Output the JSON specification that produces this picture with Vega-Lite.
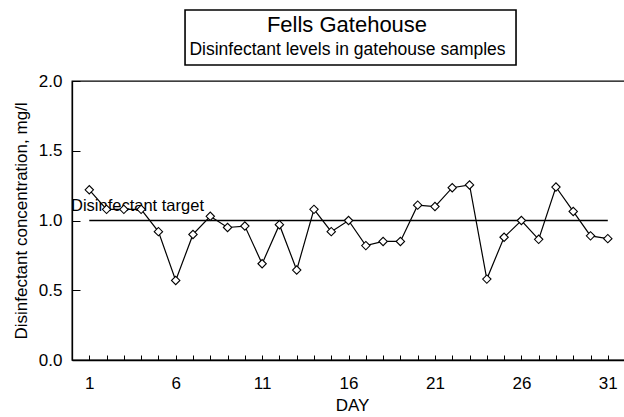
{
  "$schema": "https://vega.github.io/schema/vega-lite/v6.json",
  "width": 560,
  "height": 279,
  "autosize": {"type": "none"},
  "padding": {"left": 72, "top": 81, "right": 0, "bottom": 57},
  "background": "white",
  "config": {
    "font": "Liberation Sans",
    "view": {"stroke": "black", "strokeWidth": 1.3},
    "axis": {"domainColor": "black", "tickColor": "black", "labelColor": "black", "titleColor": "black", "grid": false, "labelFont": "Liberation Sans", "titleFont": "Liberation Sans", "titleFontWeight": "normal", "domainWidth": 1.3}
  },
  "data": {
    "values": [
      {"day": 1, "conc": 1.22},
      {"day": 2, "conc": 1.08},
      {"day": 3, "conc": 1.08},
      {"day": 4, "conc": 1.08},
      {"day": 5, "conc": 0.92},
      {"day": 6, "conc": 0.57},
      {"day": 7, "conc": 0.9},
      {"day": 8, "conc": 1.03},
      {"day": 9, "conc": 0.95},
      {"day": 10, "conc": 0.96},
      {"day": 11, "conc": 0.69},
      {"day": 12, "conc": 0.97},
      {"day": 13, "conc": 0.645},
      {"day": 14, "conc": 1.08},
      {"day": 15, "conc": 0.92},
      {"day": 16, "conc": 1.0},
      {"day": 17, "conc": 0.82},
      {"day": 18, "conc": 0.85},
      {"day": 19, "conc": 0.85},
      {"day": 20, "conc": 1.11},
      {"day": 21, "conc": 1.1},
      {"day": 22, "conc": 1.235},
      {"day": 23, "conc": 1.255},
      {"day": 24, "conc": 0.58},
      {"day": 25, "conc": 0.88},
      {"day": 26, "conc": 1.0},
      {"day": 27, "conc": 0.865},
      {"day": 28, "conc": 1.24},
      {"day": 29, "conc": 1.065},
      {"day": 30, "conc": 0.89},
      {"day": 31, "conc": 0.87}
    ]
  },
  "layer": [
    {
      "data": {"values": [{"label": "title box"}]},
      "mark": {"type": "rect", "fill": "white", "stroke": "black", "strokeWidth": 1.6},
      "encoding": {
        "x": {"datum": 6.54, "type": "quantitative"},
        "x2": {"datum": 25.69},
        "y": {"datum": 2.115, "type": "quantitative"},
        "y2": {"datum": 2.509}
      }
    },
    {
      "data": {"values": [{"label": "Fells Gatehouse"}]},
      "mark": {"type": "text", "align": "center", "baseline": "alphabetic", "fontSize": 22, "color": "black"},
      "encoding": {
        "text": {"field": "label"},
        "x": {"datum": 15.91, "type": "quantitative"},
        "y": {"datum": 2.353, "type": "quantitative"}
      }
    },
    {
      "data": {"values": [{"label": "Disinfectant levels in gatehouse samples"}]},
      "mark": {"type": "text", "align": "center", "baseline": "alphabetic", "fontSize": 17.5, "color": "black"},
      "encoding": {
        "text": {"field": "label"},
        "x": {"datum": 15.94, "type": "quantitative"},
        "y": {"datum": 2.186, "type": "quantitative"}
      }
    },
    {
      "data": {"values": [{"label": "Disinfectant target"}]},
      "mark": {"type": "rule", "color": "black", "strokeWidth": 1.6},
      "encoding": {
        "x": {"datum": 1, "type": "quantitative"},
        "x2": {"datum": 31},
        "y": {"datum": 1.0, "type": "quantitative"}
      }
    },
    {
      "data": {"values": [{"label": "Disinfectant target"}]},
      "mark": {"type": "text", "align": "left", "baseline": "alphabetic", "fontSize": 16.5, "dx": -1, "color": "black"},
      "encoding": {
        "text": {"field": "label"},
        "x": {"datum": 0, "type": "quantitative"},
        "y": {"datum": 1.07, "type": "quantitative"}
      }
    },
    {
      "mark": {"type": "line", "color": "black", "strokeWidth": 1.2},
      "encoding": {
        "x": {
          "field": "day", "type": "quantitative",
          "scale": {"domain": [0, 32.4], "nice": false, "zero": false},
          "axis": {
            "title": "DAY", "titleFontSize": 17, "titlePadding": 6,
            "values": [1,2,3,4,5,6,7,8,9,10,11,12,13,14,15,16,17,18,19,20,21,22,23,24,25,26,27,28,29,30,31],
            "tickCount": 100, "format": "d",
            "labelExpr": "(datum.value - 1) % 5 == 0 ? datum.label : ''",
            "labelOverlap": false,
            "tickSize": -5, "labelFontSize": 17, "labelPadding": 20, "labelFlush": false
          }
        },
        "y": {
          "field": "conc", "type": "quantitative",
          "scale": {"domain": [0, 2], "nice": false},
          "axis": {
            "title": "Disinfectant concentration, mg/l", "titleFontSize": 17, "titlePadding": 8,
            "values": [0, 0.5, 1, 1.5, 2], "format": ".1f", "tickCount": 10,
            "tickSize": -8, "labelFontSize": 17, "labelPadding": 18
          }
        }
      }
    },
    {
      "mark": {"type": "point", "shape": "diamond", "size": 70, "filled": true, "fill": "white", "stroke": "black", "strokeWidth": 1.1, "opacity": 1},
      "encoding": {
        "x": {"field": "day", "type": "quantitative"},
        "y": {"field": "conc", "type": "quantitative"}
      }
    }
  ]
}
